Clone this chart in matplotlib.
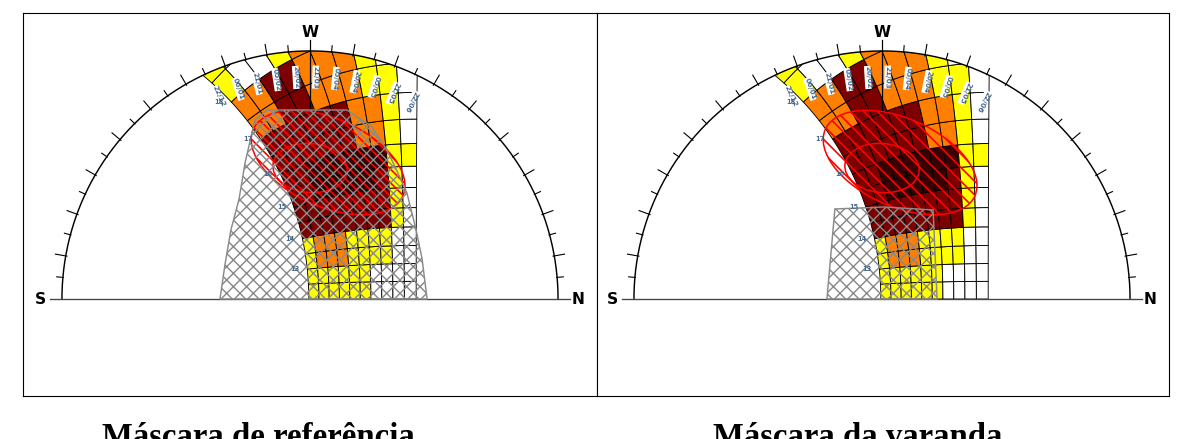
import numpy as np
import matplotlib.pyplot as plt
from matplotlib.patches import Polygon, Circle, Ellipse

plt.rcParams['hatch.linewidth'] = 1.3

# site latitude and sun-path grid (declination lines, half-hour lines)
LAT = -22.9
decl = [-23.45, -18.76, -14.07, -9.38, -4.69, 0.0, 4.69, 9.38, 14.07, 18.76, 23.45]
date_labels = ['22/12', '06/01', '21/01', '05/02', '20/02', '21/03',
               '05/04', '20/04', '05/05', '21/05', '22/06']
hours = [12.0, 12.5, 13.0, 13.5, 14.0, 14.5, 15.0, 15.5, 16.0, 16.5,
         17.0, 17.5, 18.0, 18.5, 19.0]
hour_marks = [13, 14, 15, 16, 17, 18]

# temperature class per cell: rows = half hours from 12:00, cols = date bands
# 0 white, 1 yellow, 2 orange, 3 dark red, 4 darkest
temp_class = [
    [1, 1, 1, 1, 1, 1, 0, 0, 0, 0],
    [1, 1, 1, 1, 1, 1, 0, 0, 0, 0],
    [1, 2, 2, 2, 1, 1, 1, 1, 0, 0],
    [1, 2, 2, 2, 1, 1, 1, 1, 0, 0],
    [3, 3, 3, 3, 3, 3, 3, 3, 1, 0],
    [3, 3, 3, 3, 3, 3, 3, 3, 1, 0],
    [3, 3, 4, 4, 4, 4, 4, 3, 1, 0],
    [3, 3, 4, 4, 4, 4, 4, 4, 1, 1],
    [3, 3, 3, 3, 3, 3, 2, 2, 1, 0],
    [3, 3, 3, 3, 3, 3, 2, 2, 1, 0],
    [2, 2, 3, 3, 2, 2, 2, 1, 1, 0],
    [2, 2, 3, 3, 2, 2, 2, 1, 0, 0],
    [1, 0, 0, 1, 2, 2, 2, 1, 0, 0],
    [1, 0, 0, 1, 2, 2, 2, 1, 0, 0],
]
class_colors = ['white', '#ffff00', '#ff8000', '#7d0000', '#380000']

# masks, in units of the horizon radius
ref_mask = [(-0.363, 0), (-0.343, 0.137), (-0.319, 0.278), (-0.286, 0.403),
            (-0.262, 0.548), (-0.222, 0.722), (-0.173, 0.762), (0.149, 0.762),
            (0.25, 0.694), (0.31, 0.601), (0.347, 0.524), (0.391, 0.427),
            (0.427, 0.282), (0.452, 0.161), (0.472, 0)]
varanda_mask = [(-0.222, 0), (-0.19, 0.363), (0.008, 0.371), (0.206, 0.359), (0.222, 0)]
big_ellipse = dict(xy=(0.073, 0.55), width=0.66, height=0.355, angle=-24)
small_ellipse = dict(xy=(0.0, 0.528), width=0.30, height=0.198, angle=-5)

titles = ['Máscara de referência', 'Máscara da varanda']


def sun_xy(dec, h):
    d = np.radians(dec)
    H = np.radians((np.asarray(h) - 12) * 15)
    p = np.radians(LAT)
    n = np.cos(p) * np.sin(d) - np.sin(p) * np.cos(d) * np.cos(H)
    w = np.cos(d) * np.sin(H)
    u = np.sin(p) * np.sin(d) + np.cos(p) * np.cos(d) * np.cos(H)
    return n / (1 + u), w / (1 + u)


def cell(i, j):
    d0, d1 = decl[i], decl[i + 1]
    h0, h1 = hours[j], hours[j + 1]
    t = np.linspace(h0, h1, 8)
    dd = np.linspace(d0, d1, 4)
    pts = []
    x, y = sun_xy(d0, t); pts += list(zip(x, y))
    x, y = sun_xy(dd, h1); pts += list(zip(x, y))
    x, y = sun_xy(d1, t[::-1]); pts += list(zip(x, y))
    x, y = sun_xy(dd[::-1], h0); pts += list(zip(x, y))
    return pts


def draw_panel(ax, mask, xlim):
    ax.set_xlim(*xlim)
    ax.set_ylim(-0.391, 1.153)
    ax.set_xticks([])
    ax.set_yticks([])
    for s in ax.spines.values():
        s.set_linewidth(1.0)

    horizon = Circle((0, 0), 1, transform=ax.transData)
    for j, row in enumerate(temp_class):
        for i, c in enumerate(row):
            p = Polygon(cell(i, j), closed=True, fc=class_colors[c], ec='black',
                        lw=0.8, zorder=1)
            ax.add_patch(p)
            p.set_clip_path(horizon)

    th = np.linspace(0, np.pi, 400)
    ax.plot(np.cos(th), np.sin(th), color='black', lw=1.3, zorder=2)
    ax.plot([-1.05, 1.05], [0, 0], color='#444444', lw=1.2, zorder=2)
    for deg in range(5, 180, 5):
        if deg == 90:
            continue
        a = np.radians(deg)
        r0, r1 = (0.995, 1.042) if deg % 10 == 0 else (0.998, 1.025)
        ax.plot([r0 * np.cos(a), r1 * np.cos(a)], [r0 * np.sin(a), r1 * np.sin(a)],
                color='black', lw=1.0, zorder=2)
    ax.plot([0, 0], [0.76, 1.045], color='black', lw=1.1, zorder=2)

    ax.text(-1.085, 0, 'S', ha='center', va='center', fontsize=14, fontweight='heavy')
    ax.text(1.08, 0, 'N', ha='center', va='center', fontsize=14, fontweight='heavy')
    ax.text(0, 1.073, 'W', ha='center', va='center', fontsize=14, fontweight='heavy')

    # date labels at sunset points
    for d, lab in zip(decl, date_labels):
        ch = -np.tan(np.radians(LAT)) * np.tan(np.radians(d))
        h_set = 12 + np.degrees(np.arccos(ch)) / 15
        n, w = sun_xy(d, h_set)
        a = np.arctan2(w, n) - 0.025
        ax.text(0.895 * np.cos(a), 0.895 * np.sin(a), lab, rotation=np.degrees(a) - 180,
                ha='center', va='center', rotation_mode='anchor', fontsize=6.5,
                fontweight='bold', color='#46698c', zorder=5,
                bbox=dict(fc='white', ec='none', pad=0.2))
    for h in hour_marks:
        x, y = sun_xy(decl[0], h)
        ax.text(x - 0.05, y, str(h), ha='center', va='center', fontsize=6,
                fontweight='bold', color='#46698c', zorder=5)

    # red shading of the big ellipse: diagonal lines clipped to it
    big = Ellipse(**big_ellipse, fc='none', ec='red', lw=1.4, zorder=3)
    ax.add_patch(big)
    cx, cy = big_ellipse['xy']
    for off in np.arange(-0.6, 0.6, 0.055):
        ln, = ax.plot([cx + off - 0.5, cx + off + 0.5], [cy + 0.5, cy - 0.5],
                      color='red', lw=1.5, zorder=3)
        ln.set_clip_path(big)
    ax.add_patch(Ellipse(**small_ellipse, fc='none', ec='red', lw=1.4, zorder=3))
    ax.add_patch(Polygon(mask, closed=True, fc='none', ec='#8a8a8a', hatch='xx',
                         lw=1.3, zorder=4))


fig = plt.figure(figsize=(1190 / 80, 439 / 80), dpi=80)
ax1 = fig.add_axes([23 / 1190, 43 / 439, 574 / 1190, 383 / 439])
ax2 = fig.add_axes([597 / 1190, 43 / 439, 572 / 1190, 383 / 439])
draw_panel(ax1, ref_mask, (-1.157, 1.157))
draw_panel(ax2, varanda_mask, (-1.149, 1.157))

fig.text(258 / 1190, -7 / 439, titles[0], ha='center', va='baseline',
         fontsize=29.5, fontweight='bold', family='Liberation Serif')
fig.text(858 / 1190, -7 / 439, titles[1], ha='center', va='baseline',
         fontsize=29.5, fontweight='bold', family='Liberation Serif')

fig.savefig('out.png', dpi=80)
